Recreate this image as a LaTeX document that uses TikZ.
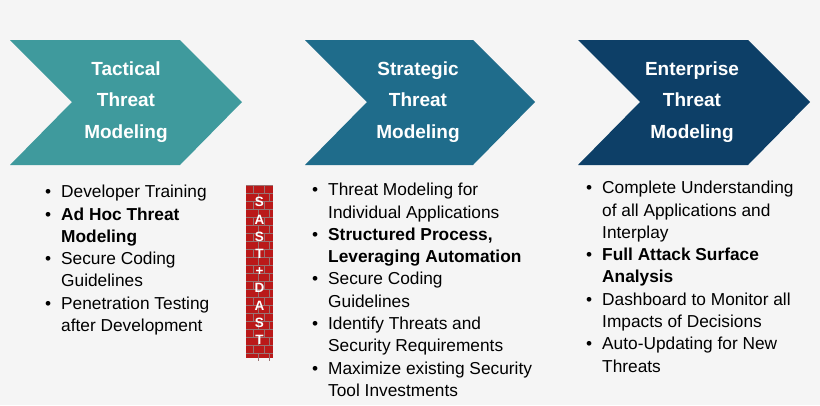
\documentclass[tikz,border=0pt]{standalone}
\usepackage{fontspec}
\setmainfont{Liberation Sans}
\begin{document}
\begin{tikzpicture}[x=1pt,y=-1pt,
  head/.style={text=white,font=\fontsize{19}{31.5}\selectfont\bfseries,align=center},
  list/.style={anchor=north west,align=left,font=\fontsize{17.3}{22.3}\selectfont,inner sep=0pt},
  brick/.style={draw=white!75!red!60!black,line width=0.5pt}]
\useasboundingbox[fill=white!96!black] (0,0) rectangle (820,405);
\definecolor{c1}{HTML}{3F9A9D}\definecolor{c2}{HTML}{1F6C8B}\definecolor{c3}{HTML}{0D3F67}
\fill[c1] (10,40) -- (180,40) -- (242,102) -- (180,165) -- (10,165) -- (72,102) -- cycle;
\fill[c2] (305,40) -- (473,40) -- (535,102) -- (473,165) -- (305,165) -- (367,102) -- cycle;
\fill[c3] (578,40) -- (748,40) -- (810,102) -- (748,165) -- (578,165) -- (640,102) -- cycle;
\node[head] (h1) at (126,102) {Tactical\\Threat\\Modeling};
\node[head] (h2) at (418,102) {Strategic\\Threat\\Modeling};
\node[head] (h3) at (692,102) {Enterprise\\Threat\\Modeling};
% wall
\fill[red!70!black!90] (246,185) rectangle (273,358);
\foreach \i in {0,...,21}{
  \draw[brick] (246,185+\i*8) -- (273,185+\i*8);
  \pgfmathsetmacro{\off}{mod(\i,2)==0?0:5}
  \draw[brick] (253+\off,185+\i*8) -- (253+\off,193+\i*8);
  \draw[brick] (264+\off,185+\i*8) -- (264+\off,193+\i*8);
}
\node[text=white,font=\fontsize{13.5}{17.2}\selectfont\bfseries,align=center,inner sep=0pt] (w) at (259.5,271) {S\\A\\S\\T\\+\\D\\A\\S\\T};
\node[list] (l1) at (45,185) {%
\makebox[16pt][l]{•}Developer Training\\
\makebox[16pt][l]{•}\textbf{Ad Hoc Threat}\\
\makebox[16pt][l]{}\textbf{Modeling}\\
\makebox[16pt][l]{•}Secure Coding\\
\makebox[16pt][l]{}Guidelines\\
\makebox[16pt][l]{•}Penetration Testing\\
\makebox[16pt][l]{}after Development};
\node[list] (l2) at (312,183) {%
\makebox[16pt][l]{•}Threat Modeling for\\
\makebox[16pt][l]{}Individual Applications\\
\makebox[16pt][l]{•}\textbf{Structured Process,}\\
\makebox[16pt][l]{}\textbf{Leveraging Automation}\\
\makebox[16pt][l]{•}Secure Coding\\
\makebox[16pt][l]{}Guidelines\\
\makebox[16pt][l]{•}Identify Threats and\\
\makebox[16pt][l]{}Security Requirements\\
\makebox[16pt][l]{•}Maximize existing Security\\
\makebox[16pt][l]{}Tool Investments};
\node[list] (l3) at (586,181) {%
\makebox[16pt][l]{•}Complete Understanding\\
\makebox[16pt][l]{}of all Applications and\\
\makebox[16pt][l]{}Interplay\\
\makebox[16pt][l]{•}\textbf{Full Attack Surface}\\
\makebox[16pt][l]{}\textbf{Analysis}\\
\makebox[16pt][l]{•}Dashboard to Monitor all\\
\makebox[16pt][l]{}Impacts of Decisions\\
\makebox[16pt][l]{•}Auto-Updating for New\\
\makebox[16pt][l]{}Threats};
\end{tikzpicture}
\end{document}
